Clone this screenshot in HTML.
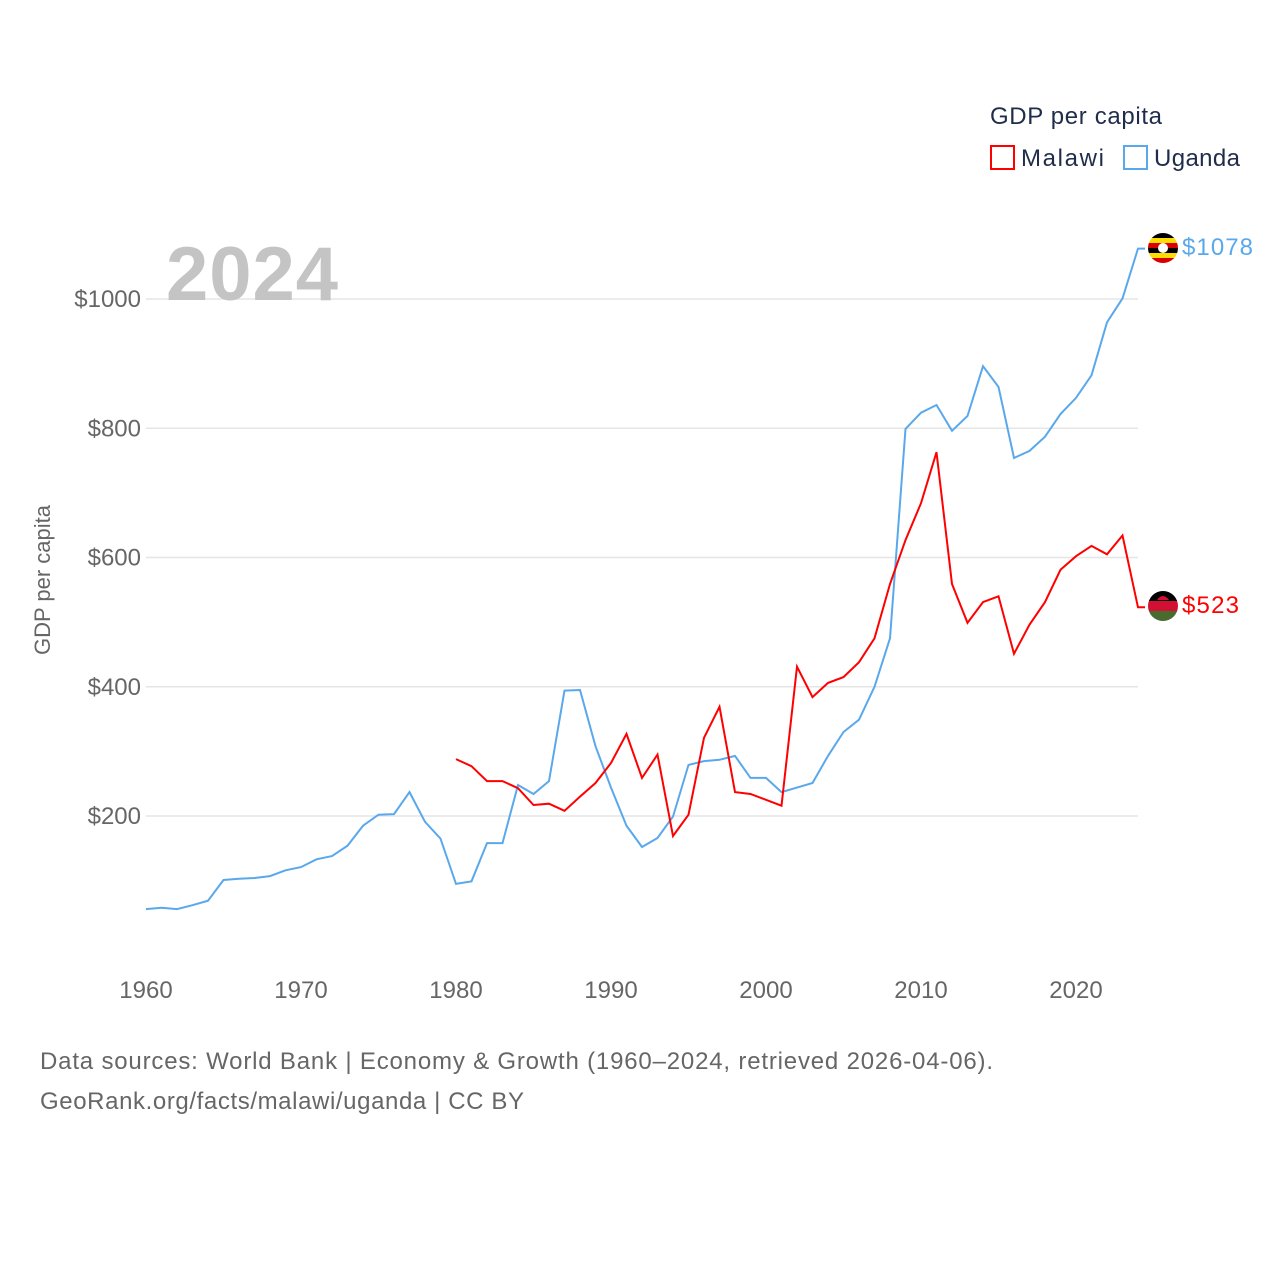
<!DOCTYPE html>
<html><head><meta charset="utf-8"><style>
body{margin:0;background:#fff;font-family:"Liberation Sans",sans-serif;}
svg text{font-family:"Liberation Sans",sans-serif;}
</style></head><body>
<svg id="chart" width="1280" height="1280" xmlns="http://www.w3.org/2000/svg">
<rect width="1280" height="1280" fill="#fff"/>
<g id="grid"></g>
<g id="yticks"></g>
<g id="xticks"></g>
<text x="166" y="300" font-size="76" font-weight="bold" fill="#c4c4c4" textLength="172">2024</text>
<text transform="translate(50,580) rotate(-90)" text-anchor="middle" font-size="22" fill="#666">GDP per capita</text>
<g id="series"></g>
<g>
<text x="990" y="124" font-size="24" fill="#1f2d4a" textLength="172">GDP per capita</text>
<rect x="991" y="146" width="23" height="23" fill="none" stroke="#f00" stroke-width="2"/>
<text x="1021" y="166" font-size="24" fill="#1f2d4a" textLength="83">Malawi</text>
<rect x="1124" y="146" width="23" height="23" fill="none" stroke="#5aa8ec" stroke-width="2"/>
<text x="1154" y="166" font-size="24" fill="#1f2d4a" textLength="86">Uganda</text>
</g>
<g>
<clipPath id="cu"><circle cx="1163" cy="248" r="15"/></clipPath>
<g clip-path="url(#cu)">
<rect x="1148" y="233" width="30" height="5" fill="#000"/><rect x="1148" y="238" width="30" height="5" fill="#fcdc04"/><rect x="1148" y="243" width="30" height="5" fill="#d90000"/><rect x="1148" y="248" width="30" height="5" fill="#000"/><rect x="1148" y="253" width="30" height="5" fill="#fcdc04"/><rect x="1148" y="258" width="30" height="5" fill="#d90000"/>
<circle cx="1163" cy="248" r="5" fill="#fff"/></g></g>
<g>
<clipPath id="cm"><circle cx="1163" cy="606" r="15"/></clipPath>
<g clip-path="url(#cm)">
<rect x="1148" y="591" width="30" height="10" fill="#000"/><rect x="1148" y="601" width="30" height="10" fill="#d21034"/><rect x="1148" y="611" width="30" height="10" fill="#4a6b30"/>
<path d="M1157 600 Q1163 592 1169 600Z" fill="#d21034"/></g></g>
<text x="1182" y="255" font-size="24" fill="#5aa8ec" textLength="71">$1078</text>
<text x="1182" y="613" font-size="24" fill="#f00" textLength="57">$523</text>
<text x="40" y="1069" font-size="24" fill="#666" textLength="953">Data sources: World Bank | Economy &amp; Growth (1960–2024, retrieved 2026-04-06).</text>
<text x="40" y="1109" font-size="24" fill="#666" textLength="484">GeoRank.org/facts/malawi/uganda | CC BY</text>
</svg>
<script>
const ugandaStart = 1960;
const ugandaValues = [56,58,56,62,69,101,103,104,107,116,121,133,138,154,185,202,203,237,191,165,95,99,158,158,248,234,254,394,395,308,244,185,152,166,199,279,285,287,293,259,259,237,244,251,293,330,349,400,475,799,824,836,796,819,896,864,754,765,787,822,847,882,964,1001,1078];
const malawiStart = 1980;
const malawiValues = [288,277,254,254,243,217,219,208,230,251,282,327,259,295,169,202,321,369,237,234,225,216,431,384,406,415,438,475,559,627,684,763,559,499,531,540,451,496,531,581,602,618,605,634,523];
const yTicks = [200,400,600,800,1000];
const xTicks = [1960,1970,1980,1990,2000,2010,2020];
const NS = "http://www.w3.org/2000/svg";
function xs(yr){return 146 + (yr-1960)*15.5;}
function ys(v){return 945.25 - v*0.64625;}
const grid = document.getElementById('grid'), yt = document.getElementById('yticks'), xt = document.getElementById('xticks'), ser = document.getElementById('series');
yTicks.forEach(v=>{
  const l=document.createElementNS(NS,'line');
  
  
  l.setAttribute('x1',146);l.setAttribute('x2',1138);l.setAttribute('y1',ys(v));l.setAttribute('y2',ys(v));
  l.setAttribute('stroke','#e6e6e6');l.setAttribute('stroke-width','1.5');grid.appendChild(l);
  const t=document.createElementNS(NS,'text');
  
  
  t.setAttribute('x',141);t.setAttribute('y',ys(v)+8);t.setAttribute('text-anchor','end');
  t.setAttribute('font-size','24');t.setAttribute('fill','#666');t.textContent='$'+v;yt.appendChild(t);
});
xTicks.forEach(yr=>{
  const t=document.createElementNS(NS,'text');
  
  
  t.setAttribute('x',xs(yr));t.setAttribute('y',998);t.setAttribute('text-anchor','middle');
  t.setAttribute('font-size','24');t.setAttribute('fill','#666');t.textContent=yr;xt.appendChild(t);
});
function line(start, vals, color, name){
  let d=vals.map((v,i)=>(i?'L':'M')+xs(start+i).toFixed(1)+' '+ys(v).toFixed(1)).join(' ');
  d+=' H1145';
  const p=document.createElementNS(NS,'path');
  
  
  p.setAttribute('d',d);p.setAttribute('fill','none');p.setAttribute('stroke',color);
  p.setAttribute('stroke-width','2');p.setAttribute('stroke-linejoin','miter');ser.appendChild(p);
}
line(ugandaStart, ugandaValues, '#5aa8ec', 'uganda-line');
line(malawiStart, malawiValues, '#ff0000', 'malawi-line');
</script>
</body></html>
